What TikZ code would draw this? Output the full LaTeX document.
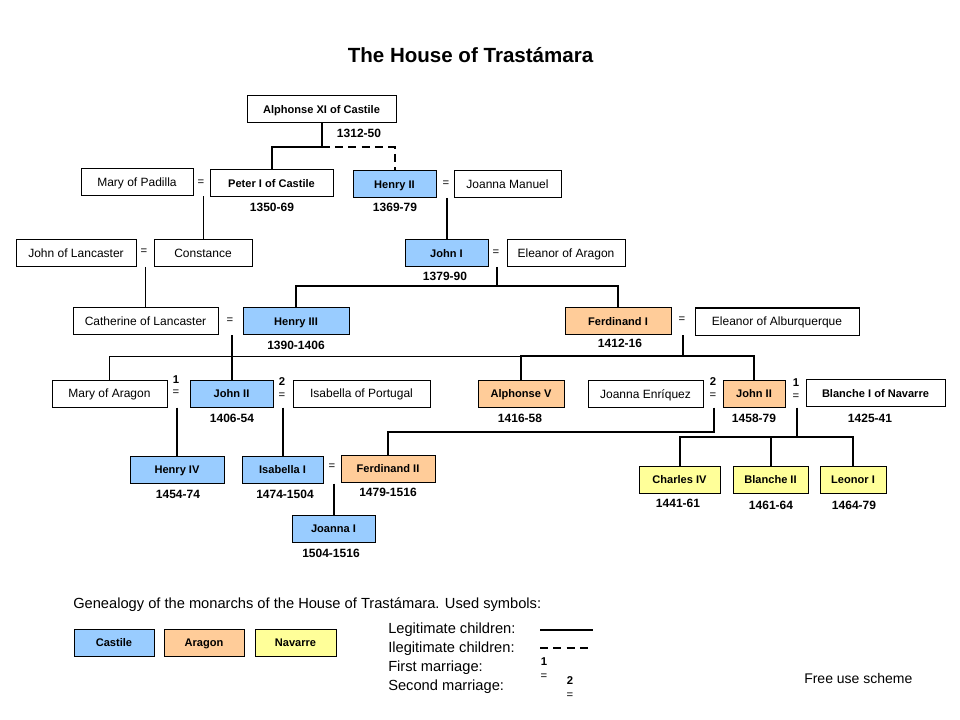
\documentclass[tikz,border=0pt]{standalone}
\usepackage{fontspec}
\setmainfont{Liberation Sans}
\definecolor{castile}{HTML}{99CCFF}
\definecolor{aragon}{HTML}{FFCC99}
\definecolor{navarre}{HTML}{FFFF99}
\tikzset{
  box/.style={draw, line width=0.75pt, minimum height=20.25pt, inner sep=0pt,
    font=\fontsize{9}{10}\selectfont, text height=6.5pt, text depth=0pt},
  mon/.style={box, font=\bfseries\fontsize{8.3}{10}\selectfont},
  cas/.style={mon, fill=castile},
  ara/.style={mon, fill=aragon},
  nav/.style={mon, fill=navarre},
  bw/.style={minimum width=#1*0.75pt},
  yr/.style={font=\bfseries\fontsize{9}{10}\selectfont, inner sep=0pt},
  eqs/.style={font=\fontsize{8.5}{10}\selectfont, inner sep=0pt},
  num/.style={font=\bfseries\fontsize{8.5}{10}\selectfont, inner sep=0pt},
  lk/.style={line width=1.5pt},
  thinlk/.style={line width=0.75pt},
  ilk/.style={line width=1.5pt, dash pattern=on 6pt off 4pt},
  legtext/.style={font=\fontsize{11}{12}\selectfont, inner sep=0pt, anchor=west},
}
\begin{document}
\begin{tikzpicture}[x=0.75pt, y=-0.75pt]
\useasboundingbox (0,0) rectangle (960,720);
\fill[white] (0,0) rectangle (960,720);

% title
\node[font=\bfseries\fontsize{15.4}{18}\selectfont, inner sep=0pt] (title) at (470.5,55) {The House of Trastámara};

% generation 1
\node[mon, bw=149] (alf) at (321.5,109.5) {Alphonse XI of Castile};
\node[yr] (dalf) at (359,133) {1312-50};

% generation 2
\node[box, bw=112] (mary) at (137,182.5) {Mary of Padilla};
\node[eqs] (eqMP) at (201,183) {=};
\node[mon, bw=123] (peter) at (271.5,183) {Peter I of Castile};
\node[yr] (dpeter) at (272,207) {1350-69};
\node[cas, bw=83] (henry2) at (394.5,184) {Henry II};
\node[yr] (dhenry2) at (395,207) {1369-79};
\node[eqs] (eqH2) at (446,184) {=};
\node[box, bw=107] (joanna) at (507.5,184) {Joanna Manuel};

% generation 3
\node[box, bw=120] (johnl) at (76,253) {John of Lancaster};
\node[eqs] (eqJL) at (144,252) {=};
\node[box, bw=98] (constance) at (203,253) {Constance};
\node[cas, bw=83] (john1) at (446.5,253) {John I};
\node[yr] (djohn1) at (445,276) {1379-90};
\node[eqs] (eqJ1) at (496,253) {=};
\node[box, bw=118] (eleanorA) at (566,253) {Eleanor of Aragon};

% generation 4
\node[box, bw=145] (catherine) at (145.5,321) {Catherine of Lancaster};
\node[eqs] (eqH3) at (230,321) {=};
\node[cas, bw=106] (henry3) at (296,321) {Henry III};
\node[yr] (dhenry3) at (296,345) {1390-1406};
\node[ara, bw=106] (ferd1) at (618,321) {Ferdinand I};
\node[yr] (dferd1) at (620,343) {1412-16};
\node[eqs] (eqF1) at (682,320) {=};
\node[box, bw=164] (eleanorAlb) at (777,321.5) {Eleanor of Alburquerque};

% generation 5
\node[box, bw=115] (maryA) at (109.5,393.5) {Mary of Aragon};
\node[num] (n1c) at (176,380) {1};
\node[eqs] (eq1c) at (176,393) {=};
\node[cas, bw=83] (john2c) at (231.5,393.5) {John II};
\node[yr] (djohn2c) at (232,418) {1406-54};
\node[num] (n2c) at (282,382) {2};
\node[eqs] (eq2c) at (282,396) {=};
\node[box, bw=137] (isabP) at (361.5,393.5) {Isabella of Portugal};
\node[ara, bw=86] (alf5) at (521,393.5) {Alphonse V};
\node[yr] (dalf5) at (520,418) {1416-58};
\node[box, bw=115] (joannaE) at (645.5,394) {Joanna Enríquez};
\node[num] (n2a) at (713,382) {2};
\node[eqs] (eq2a) at (713,396) {=};
\node[ara, bw=62] (john2a) at (754,393.5) {John II};
\node[yr] (djohn2a) at (754,418) {1458-79};
\node[num] (n1a) at (796,383) {1};
\node[eqs] (eq1a) at (796,397) {=};
\node[mon, bw=139] (blanche1) at (875.5,393) {Blanche I of Navarre};
\node[yr] (dblanche1) at (870,418) {1425-41};

% generation 6
\node[cas, bw=94] (henry4) at (177,469.5) {Henry IV};
\node[yr] (dhenry4) at (178,494) {1454-74};
\node[cas, bw=81] (isab1) at (282.5,469.5) {Isabella I};
\node[yr] (disab1) at (285,494) {1474-1504};
\node[eqs] (eqIF) at (332,467) {=};
\node[ara, bw=94] (ferd2) at (388,468.5) {Ferdinand II};
\node[yr] (dferd2) at (388,492) {1479-1516};
\node[nav, bw=81] (charles4) at (679.5,479.5) {Charles IV};
\node[yr] (dcharles4) at (678,503) {1441-61};
\node[nav, bw=75] (blanche2) at (770.5,479.5) {Blanche II};
\node[yr] (dblanche2) at (771,505) {1461-64};
\node[nav, bw=66] (leonor1) at (853,479.5) {Leonor I};
\node[yr] (dleonor1) at (854,505) {1464-79};

% generation 7
\node[cas, bw=83] (joanna1) at (333.5,528.5) {Joanna I};
\node[yr] (djoanna1) at (331,553) {1504-1516};

% junction coordinates
\coordinate (jA) at (321.5,147);
\coordinate (jB) at (497,286);
\coordinate (jC) at (683,356);
\coordinate (jD) at (714,432);
\coordinate (jE) at (797,437);

% connectors
\draw[lk] (alf.south) -- (jA) -| (peter.north);
\draw[ilk] (jA) -| (henry2.north);
\draw[thinlk] (constance.north |- mary.south) -- (constance.north);
\draw[thinlk] (catherine.north |- johnl.south) -- (catherine.north);
\draw[lk] (john1.north |- henry2.south) -- (john1.north);
\draw[lk] (jB |- john1.south) -- (jB);
\draw[lk] (henry3.north) |- (jB) -| (ferd1.north);
\draw[lk] (john2c.north |- henry3.south) -- (john2c.north);
\draw[lk] (jC |- ferd1.south) -- (jC);
\draw[lk] (alf5.north) |- (jC) -| (john2a.north);
\draw[thinlk] (maryA.north) |- (alf5.north |- jC);
\draw[lk] (henry4.north |- maryA.south) -- (henry4.north);
\draw[lk] (isab1.north |- john2c.south) -- (isab1.north);
\draw[lk] (jD |- john2a.south) -- (jD) -| (ferd2.north);
\draw[lk] (jE |- john2a.south) -- (jE);
\draw[lk] (charles4.north) |- (jE) -| (leonor1.north);
\draw[lk] (blanche2.north) -- (blanche2.north |- jE);
\draw[lk] (joanna1.north |- isab1.south) -- (joanna1.north);

% legend
\node[legtext] (gen) at (73,605) {Genealogy of the monarchs of the House of Trastámara. Used symbols:};
\node[cas, bw=80] (lcas) at (114,642.5) {Castile};
\node[ara, bw=80] (lara) at (204,642.5) {Aragon};
\node[nav, bw=81] (lnav) at (295.5,642.5) {Navarre};
\node[legtext] (lleg) at (388,630) {Legitimate children:};
\node[legtext] (lileg) at (388,649) {Ilegitimate children:};
\node[legtext] (lfirst) at (388,668) {First marriage:};
\node[legtext] (lsecond) at (388,687) {Second marriage:};
\coordinate (ls1) at (540,630);
\coordinate (ls2) at (593,630);
\coordinate (ld1) at (540,648);
\coordinate (ld2) at (593,648);
\draw[lk] (ls1) -- (ls2);
\draw[ilk] (ld1) -- (ld2);
\node[num] (ln1) at (544,662) {1};
\node[eqs] (leq1) at (544,677) {=};
\node[num] (ln2) at (570,681) {2};
\node[eqs] (leq2) at (570,696) {=};
\node[font=\fontsize{10.5}{12}\selectfont, inner sep=0pt, anchor=west] (free) at (804,678) {Free use scheme};
\end{tikzpicture}
\end{document}
